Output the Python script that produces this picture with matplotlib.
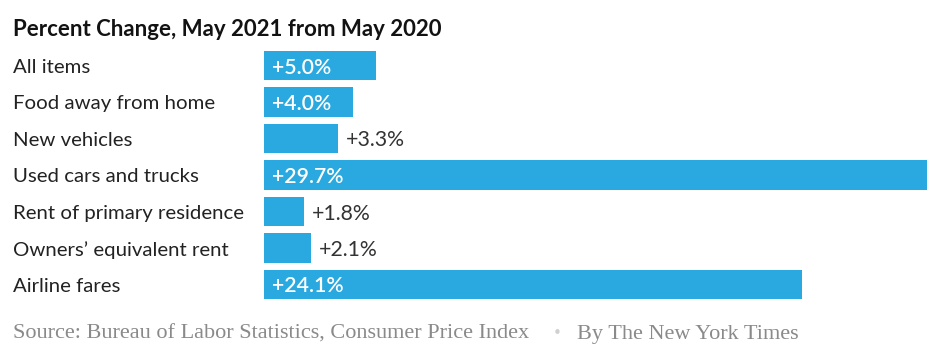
import matplotlib.pyplot as plt

# DATA
categories = ["All items", "Food away from home", "New vehicles", "Used cars and trucks",
              "Rent of primary residence", "Owners\u2019 equivalent rent", "Airline fares"]
values = [5.0, 4.0, 3.3, 29.7, 1.8, 2.1, 24.1]
inside_cut = 4.0   # labels go inside bars at or above this

BLUE = "#29a9e0"
TEXT = "#333333"

fig = plt.figure(figsize=(9.36, 3.6), dpi=100)
ax = fig.add_axes([264 / 936, (360 - 302.75) / 360, 663 / 936, 255.5 / 360])

y = range(len(categories))
ax.barh(y, values, height=0.8, color=BLUE)
ax.set_xlim(0, 29.7)
ax.set_ylim(len(categories) - 0.5, -0.5)
ax.axis("off")

for i, (cat, v) in enumerate(zip(categories, values)):
    # category label on the left
    ax.annotate(cat, xy=(0, i), xycoords=("axes fraction", "data"),
                xytext=(13 - 264, -2), textcoords="offset pixels",
                ha="left", va="center", fontsize=14.7, color="#222222", family="Lato")
    lab = f"+{v:.1f}%"
    if v >= inside_cut:
        ax.annotate(lab, xy=(0, i), xytext=(8, -2), textcoords="offset pixels",
                    ha="left", va="center", fontsize=15.3, color="white",
                    family="Lato", fontweight="semibold")
    else:
        ax.annotate(lab, xy=(v, i), xytext=(8, -2), textcoords="offset pixels",
                    ha="left", va="center", fontsize=15.3, color=TEXT, family="Lato")

fig.text(13 / 936, 1 - 30 / 360, "Percent Change, May 2021 from May 2020",
         ha="left", va="center", fontsize=16, fontweight="bold", color="#121212", family="Lato")

fig.text(13 / 936, 1 - 334 / 360, "Source: Bureau of Labor Statistics, Consumer Price Index",
         ha="left", va="center", fontsize=16, color="#8a8a8a", family="Liberation Serif")
fig.text(557 / 936, 1 - 333 / 360, "\u2022", ha="center", va="center",
         fontsize=11, color="#d0d0d0")
fig.text(577 / 936, 1 - 334 / 360, "By The New York Times",
         ha="left", va="center", fontsize=16, color="#8a8a8a", family="Liberation Serif")

fig.savefig("out.png", dpi=100, facecolor="white")
